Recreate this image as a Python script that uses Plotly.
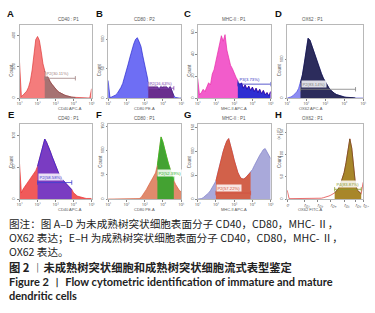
import plotly.graph_objects as go

W, H = 375, 313

# ---------------- data ----------------
# log10 channel grid shared by all histograms (10^1 .. 10^5)
channels = [round(1 + 0.1 * i, 1) for i in range(41)]

counts_A = [230, 10, 20, 30, 45, 70, 110, 180, 280, 375, 395, 370, 300, 220, 175, 150, 125, 105, 88, 72,
            58, 46, 37, 30, 24, 19, 15, 11, 8, 6, 5, 4, 3, 3, 2, 2, 1, 1, 1, 1, 60]
counts_B = [30, 1, 2, 3, 5, 8, 12, 18, 25, 35, 45, 58, 70, 82, 92, 100, 103, 96, 88, 72,
            55, 40, 28, 22, 25, 18, 24, 20, 14, 22, 17, 24, 19, 15, 20, 10, 4, 1, 0, 0, 0]
counts_C = [18, 3, 5, 8, 6, 11, 14, 12, 22, 26, 34, 42, 50, 57, 52, 58, 44, 38, 30, 27,
            22, 19, 16, 12, 14, 9, 12, 8, 11, 7, 10, 6, 9, 5, 8, 4, 7, 3, 5, 2, 6]
counts_D = [0, 1, 3, 6, 10, 16, 25, 40, 60, 90, 130, 155, 150, 135, 120, 105, 90, 77, 64, 52,
            42, 33, 26, 20, 15, 12, 9, 7, 5, 4, 3, 2, 2, 1, 1, 1, 0, 0, 0, 0, 0]
counts_E = [56, 10, 16, 20, 24, 28, 32, 36, 40, 45, 52, 62, 74, 86, 95, 90, 84, 76, 68, 60,
            52, 45, 39, 34, 30, 27, 24, 21, 18, 15, 10, 7, 5, 4, 3, 2, 2, 1, 1, 1, 1]
counts_F = [0, 0, 0, 0, 0, 0, 0, 0, 0, 0, 0, 0, 0, 0, 0, 0, 0, 1, 3, 8,
            14, 20, 27, 34, 41, 48, 54, 70, 105, 128, 118, 100, 88, 74, 60, 48, 38, 30, 24, 18, 15]
counts_G = [0, 0, 1, 3, 6, 9, 13, 18, 24, 30, 38, 55, 72, 88, 100, 112, 122, 127, 115, 98,
            82, 68, 56, 48, 43, 42, 44, 48, 52, 56, 62, 70, 78, 85, 92, 98, 104, 106, 98, 92, 85]
counts_H = [20, 1, 1, 1, 1, 1, 1, 1, 1, 1, 1, 1, 1, 1, 1, 1, 1, 1, 2, 3,
            4, 5, 7, 9, 11, 14, 18, 24, 33, 45, 60, 82, 108, 136, 115, 70, 32, 20, 15, 12, 38]

panel_letters = ["A", "B", "C", "D", "E", "F", "G", "H"]
panel_titles = ["CD40 : P1", "CD80 : P2", "MHC-II : P1", "OX62 : P1",
                "CD40 : P1", "CD80 : P1", "MHC-II : P1", "OX62 : P1"]
axis_titles = ["CD40 APC-A", "CD80 PE-A", "MHC-II APC-A", "OX62 APC-A",
               "CD40 APC-A", "CD80 PE-A", "MHC-II APC-A", "OX62 FITC-A"]
gate_names = ["P2(30.11%)", "P2(16.63%)", "P3(3.73%)", "P2(83.14%)",
              "P2(58.58%)", "P2(52.39%)", "P2(57.22%)", "P4(83.87%)"]
gate_ranges = [(2.4, 4.1), (3.2, 4.6), (3.2, 5.0), (1.7, 4.6),
               (2.0, 3.9), (3.7, 4.6), (2.0, 3.9), (3.5, 4.9)]
y_max = [470, 125, 67, 190, 119, 155, 158, 170]
y_ticks = [[0, 200, 400], [0, 50, 100], [0, 20, 40, 60], [0, 100],
           [0, 50, 100], [0, 50, 100, 150], [0, 50, 100, 150], [0, 50, 100, 150]]
x_tick_vals = [1, 2, 3, 4, 5]
x_tick_text = ["10¹", "10²", "10³", "10⁴", "10⁵"]
h_tick_vals = [1, 1.9, 2.6, 3.3, 4.0, 4.6, 5.0]
h_tick_text = ["0", "10²", "10³", "10⁴", "10⁵", "10⁶", "10⁷"]

all_counts = [counts_A, counts_B, counts_C, counts_D, counts_E, counts_F, counts_G, counts_H]

note_lines = [
    "图注：图 A–D 为未成熟树突状细胞表面分子 CD40，CD80，MHC- Ⅱ，",
    "OX62 表达；E–H 为成熟树突状细胞表面分子 CD40，CD80，MHC- Ⅱ，",
    "OX62 表达。",
]
title_cn = "图 2 ︱未成熟树突状细胞和成熟树突状细胞流式表型鉴定"
title_en = [
    "Figure 2 ︱ Flow cytometric identification of immature and mature",
    "dendritic cells",
]

# ---------------- styles ----------------
fill_out = ["#f47c7c", "#6e6ef4", "#f25ccb", "#8c8cf2", "#f05a5a", "#e08a6c", "#a9a9da", "#ffffff"]
line_out = ["#e03a3a", "#2a2ad0", "#e82aa8", "#4a4ae0", "#e83030", "#d86040", "#8080c8", "#e03030"]
fill_in = ["#a67272", "#6a2e8e", "#2e2ed2", "#2c2c5c", "#7a3cc2", "#44a232", "#d2614a", "#a8862a"]
line_in = ["#805050", "#502070", "#0a0aa8", "#101030", "#2020e0", "#22cc22", "#e04020", "#604818"]
gate_col = ["#a08080", "#8040b0", "#3030c0", "#808080", "#4040d0", "#30b030", "#d05040", "#8a9a30"]
gate_y = [0.27, 0.135, 0.19, 0.12, 0.22, 0.28, 0.08, 0.13]

col_px = [(17, 91), (108, 183), (200, 275), (292, 370)]
row_px = [(23, 97), (123, 199)]
letter_px = [(8, 12), (99, 12), (190, 12), (283, 12), (8, 114), (99, 114), (190, 114), (283, 114)]


def px_x(x):
    return x / W


def px_y(y):
    return 1 - y / H


fig = go.Figure()
annotations = []
shapes = []
layout = {}

for i in range(8):
    r, c = divmod(i, 4)
    n = "" if i == 0 else str(i + 1)
    xa, ya = "x" + n, "y" + n
    x0, x1 = col_px[c]
    yt, yb = row_px[r]
    ys = all_counts[i]
    g0, g1 = gate_ranges[i]

    fig.add_trace(go.Scatter(x=channels, y=ys, mode="lines", fill="tozeroy",
                             fillcolor=fill_out[i], line=dict(color=line_out[i], width=0.7),
                             xaxis=xa, yaxis=ya, showlegend=False, hoverinfo="skip"))
    gx = [v for v in channels if g0 - 1e-9 <= v <= g1 + 1e-9]
    gy = [ys[channels.index(v)] for v in gx]
    fig.add_trace(go.Scatter(x=gx, y=gy, mode="lines", fill="tozeroy",
                             fillcolor=fill_in[i], line=dict(color=line_in[i], width=0.7),
                             xaxis=xa, yaxis=ya, showlegend=False, hoverinfo="skip"))

    if i == 7:
        tv, tt = h_tick_vals, h_tick_text
    else:
        tv, tt = x_tick_vals, x_tick_text
    layout["xaxis" + n] = dict(domain=[px_x(x0), px_x(x1)], anchor=ya, range=[1, 5],
                               showline=True, mirror=True, linecolor="#b8b8b8", linewidth=1,
                               ticks="outside", ticklen=1.5, tickwidth=0.6, tickcolor="#888",
                               tickvals=tv, ticktext=tt, tickfont=dict(size=4, color="#444"),
                               showgrid=False, zeroline=False, fixedrange=True)
    layout["yaxis" + n] = dict(domain=[px_y(yb), px_y(yt)], anchor=xa, range=[0, y_max[i]],
                               showline=True, mirror=True, linecolor="#b8b8b8", linewidth=1,
                               ticks="outside", ticklen=1.5, tickwidth=0.6, tickcolor="#888",
                               tickvals=y_ticks[i], tickangle=-90,
                               tickfont=dict(size=4, color="#444"),
                               showgrid=False, zeroline=False, fixedrange=True)

    # panel title
    annotations.append(dict(x=px_x((x0 + x1) / 2), y=px_y(yt - 1), xref="paper", yref="paper",
                            text=panel_titles[i], showarrow=False, yanchor="bottom",
                            font=dict(size=4.5, color="#555", family="Liberation Sans")))
    # x axis title
    annotations.append(dict(x=px_x((x0 + x1) / 2), y=px_y(yb + 10.5), xref="paper", yref="paper",
                            text=axis_titles[i], showarrow=False, yanchor="middle",
                            font=dict(size=4, color="#555", family="Liberation Sans")))
    # y axis title
    annotations.append(dict(x=px_x(x0 - 8), y=px_y((yt + yb) / 2), xref="paper", yref="paper",
                            text="Count", showarrow=False, textangle=-90, xanchor="center",
                            font=dict(size=4.5, color="#555", family="Liberation Sans")))
    # panel letter
    lx, ly = letter_px[i]
    annotations.append(dict(x=px_x(lx), y=px_y(ly), xref="paper", yref="paper",
                            text="<b>" + panel_letters[i] + "</b>", showarrow=False,
                            xanchor="center", yanchor="middle",
                            font=dict(size=9.5, color="#111", family="Liberation Sans")))
    # gate bar
    gyv = gate_y[i]
    shapes.append(dict(type="line", xref=xa, yref=ya + " domain", x0=g0, x1=g1, y0=gyv, y1=gyv,
                       line=dict(color=gate_col[i], width=0.8)))
    for gxv in (g0, g1):
        shapes.append(dict(type="line", xref=xa, yref=ya + " domain", x0=gxv, x1=gxv,
                           y0=gyv - 0.03, y1=gyv + 0.03, line=dict(color=gate_col[i], width=0.8)))
    annotations.append(dict(x=g0, y=gyv + 0.02, xref=xa, yref=ya + " domain",
                            text=gate_names[i], showarrow=False, xanchor="left", yanchor="bottom",
                            bgcolor="rgba(255,255,255,0.85)", borderpad=0.5,
                            font=dict(size=4.2, color=gate_col[i], family="Liberation Sans")))

annotations.append(dict(x=px_x(288), y=px_y(125), xref="paper", yref="paper",
                        text="(x 10¹)", showarrow=False, textangle=-90, xanchor="right",
                        yanchor="top", font=dict(size=4, color="#555", family="Liberation Sans")))

# caption: note block (3 lines), Chinese title, English title (2 lines)
annotations.append(dict(x=px_x(4), y=px_y(214.5), xref="paper", yref="paper",
                        text="<br>".join(note_lines), align="left",
                        showarrow=False, xanchor="left", yanchor="top",
                        font=dict(size=10.6, color="#222", family="Noto Sans CJK SC")))
annotations.append(dict(x=px_x(4), y=px_y(267.5), xref="paper", yref="paper",
                        text="<b>" + title_cn + "</b>", align="left",
                        showarrow=False, xanchor="left", yanchor="middle",
                        font=dict(size=11.3, color="#222", family="Noto Sans CJK SC")))
annotations.append(dict(x=px_x(4), y=px_y(274), xref="paper", yref="paper",
                        text="<b>" + "<br>".join(title_en) + "</b>", align="left",
                        showarrow=False, xanchor="left", yanchor="top",
                        font=dict(size=11, color="#222", family="Lato")))

fig.update_layout(width=W, height=H, margin=dict(l=0, r=0, t=0, b=0),
                  paper_bgcolor="white", plot_bgcolor="white",
                  annotations=annotations, shapes=shapes, **layout)

fig.write_html("out.html", config={"displayModeBar": False},
               post_script="document.body.style.margin='0';")
